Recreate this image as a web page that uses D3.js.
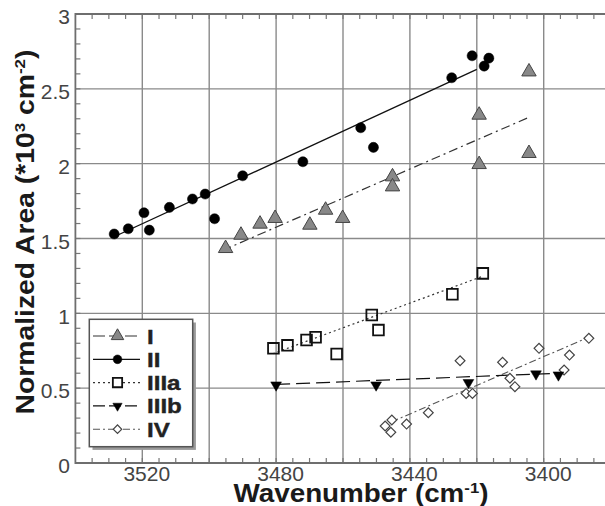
<!DOCTYPE html>
<html><head><meta charset="utf-8">
<script src="https://cdn.jsdelivr.net/npm/d3@7"></script>
<style>body{margin:0;background:#fff}</style></head>
<body><svg id="c" width="605" height="506"></svg>
<script>
// ---- data ----
const xMajor = [3520, 3500, 3480, 3460, 3440, 3420, 3400];
const xTickLabels = [3520, 3480, 3440, 3400];
const yMajor = [0.5, 1, 1.5, 2, 2.5];
const yTickLabels = [0, 0.5, 1, 1.5, 2, 2.5, 3];

const wnI  = [3495.1, 3490.5, 3484.8, 3480.3, 3469.9, 3465.2, 3460.1, 3445.2, 3445.2, 3419.3, 3419.3, 3404.4, 3404.4];
const valI = [1.434, 1.523, 1.597, 1.635, 1.59, 1.69, 1.635, 1.913, 1.846, 2.325, 1.995, 2.614, 2.069];

const wnII  = [3528.4, 3524.2, 3519.5, 3517.9, 3511.9, 3505.0, 3501.2, 3498.4, 3490.0, 3472.0, 3454.7, 3450.9, 3427.5, 3421.4, 3417.8, 3416.4];
const valII = [1.53, 1.565, 1.672, 1.556, 1.708, 1.764, 1.797, 1.632, 1.919, 2.013, 2.24, 2.109, 2.574, 2.721, 2.652, 2.705];

const wnIIIa  = [3480.8, 3476.6, 3470.9, 3468.2, 3461.9, 3451.4, 3449.4, 3427.3, 3418.2];
const valIIIa = [0.766, 0.786, 0.822, 0.84, 0.728, 0.989, 0.888, 1.127, 1.267];

const wnIIIb  = [3480.0, 3450.1, 3422.5, 3402.3, 3395.6];
const valIIIb = [0.521, 0.521, 0.537, 0.595, 0.588];

const wnIV  = [3447.4, 3445.4, 3445.7, 3441.0, 3434.5, 3425.0, 3423.2, 3421.3, 3412.3, 3410.1, 3408.6, 3401.4, 3393.9, 3392.3, 3386.5];
const valIV = [0.247, 0.287, 0.205, 0.26, 0.336, 0.683, 0.465, 0.465, 0.673, 0.566, 0.51, 0.766, 0.621, 0.721, 0.833];

// fitted lines (wavenumber, value) endpoints
const fitI    = [[3496, 1.42], [3404.4, 2.31]];
const fitII   = [[3528.6, 1.51], [3420, 2.63]];
const fitIIIa = [[3481, 0.73], [3418, 1.25]];
const fitIIIb = [[3480, 0.525], [3395.6, 0.60]];
const fitIV   = [[3445.5, 0.275], [3386.5, 0.84]];

const seriesNames = ["I", "II", "IIIa", "IIIb", "IV"];

// ---- chart ----
const svg = d3.select("#c");
const x = d3.scaleLinear().domain([3540, 3380]).range([75.4, 610.6]);
const y = d3.scaleLinear().domain([0, 3]).range([463, 14]);
const X0 = x.range()[0], X1 = 605, Y0 = y.range()[0], Y1 = y.range()[1];

const gridCol = "#8a8a8a";
svg.append("g").selectAll("line").data(xMajor).join("line")
  .attr("x1", d => x(d)).attr("x2", d => x(d)).attr("y1", Y1).attr("y2", Y0)
  .attr("stroke", gridCol).attr("stroke-width", 1.4);
svg.append("g").selectAll("line").data(yMajor).join("line")
  .attr("x1", X0).attr("x2", X1).attr("y1", d => y(d)).attr("y2", d => y(d))
  .attr("stroke", gridCol).attr("stroke-width", 1.4);

// minor ticks
const xMinor = d3.range(3535, 3380, -5);
const yMinor = d3.range(0.1, 3, 0.1);
const tk = svg.append("g").attr("stroke", "#777").attr("stroke-width", 1.2);
tk.selectAll(".xb").data(xMinor).join("line").attr("class","xb")
  .attr("x1", d => x(d)).attr("x2", d => x(d)).attr("y1", Y0).attr("y2", Y0 - 5);
tk.selectAll(".xt").data(xMinor).join("line").attr("class","xt")
  .attr("x1", d => x(d)).attr("x2", d => x(d)).attr("y1", Y1).attr("y2", Y1 + 5);
tk.selectAll(".yl").data(yMinor).join("line").attr("class","yl")
  .attr("x1", X0).attr("x2", X0 + 5).attr("y1", d => y(d)).attr("y2", d => y(d));

// frame
svg.append("path").attr("d", `M${X1},${Y1}H${X0}V${Y0}H${X1}`)
  .attr("fill", "none").attr("stroke", "#6e6e6e").attr("stroke-width", 1.8);

// axes labels via d3 axes
const xAxis = d3.axisBottom(x).tickValues(xTickLabels).tickSize(0).tickPadding(0).tickFormat(d3.format("d"));
const gx = svg.append("g").attr("transform", `translate(4,${Y0})`).call(xAxis);
gx.select(".domain").remove();
gx.selectAll("text").attr("font-family", "Liberation Sans, Arial, sans-serif")
  .attr("font-size", 21).attr("fill", "#444").attr("dy", "0.84em");

const yAxis = d3.axisLeft(y).tickValues(yTickLabels).tickSize(0).tickPadding(0).tickFormat(d => String(d));
const gy = svg.append("g").attr("transform", `translate(70,3)`).call(yAxis);
gy.select(".domain").remove();
gy.selectAll("text").attr("font-family", "Liberation Sans, Arial, sans-serif")
  .attr("font-size", 21).attr("fill", "#444");

// titles
svg.append("text").attr("x", 361).attr("y", 502)
  .attr("text-anchor", "middle").attr("font-family", "Liberation Sans, Arial, sans-serif")
  .attr("font-weight", "bold").attr("font-size", 25).attr("fill", "#1a1a1a")
  .attr("textLength", 255).attr("lengthAdjust", "spacingAndGlyphs")
  .html('Wavenumber (cm<tspan dy="-9" font-size="15">-1</tspan><tspan dy="9">)</tspan>');

svg.append("text").attr("transform", "translate(34,232) rotate(-90)")
  .attr("text-anchor", "middle").attr("font-family", "Liberation Sans, Arial, sans-serif")
  .attr("font-weight", "bold").attr("font-size", 25).attr("fill", "#1a1a1a")
  .attr("textLength", 365).attr("lengthAdjust", "spacingAndGlyphs")
  .html('Normalized Area (*10<tspan dy="-9" font-size="15">3</tspan><tspan dy="9"> cm</tspan><tspan dy="-9" font-size="15">-2</tspan><tspan dy="9">)</tspan>');

// series styles
const styles = {
  I:    {sym: d3.symbolTriangle, size: 90, rot: 0, fill: "#888", stroke: "#444", sw: 1, line: "#333", dash: "9,4,2,4", lw: 1.2},
  II:   {sym: d3.symbolCircle, size: 80, rot: 0, fill: "#000", stroke: "#000", sw: 0.5, line: "#111", dash: null, lw: 1.3},
  IIIa: {sym: d3.symbolSquare, size: 115, rot: 0, fill: "none", stroke: "#111", sw: 1.8, line: "#333", dash: "2,3", lw: 1.2},
  IIIb: {sym: d3.symbolTriangle, size: 50, rot: 180, fill: "#000", stroke: "#000", sw: 0.5, line: "#111", dash: "14,6", lw: 1.2},
  IV:   {sym: d3.symbolSquare, size: 48, rot: 45, fill: "#fff", stroke: "#444", sw: 1.2, line: "#555", dash: "7,3,2,3", lw: 1.1}
};
const wns = {I: wnI, II: wnII, IIIa: wnIIIa, IIIb: wnIIIb, IV: wnIV};
const vals = {I: valI, II: valII, IIIa: valIIIa, IIIb: valIIIb, IV: valIV};
const fits = {I: fitI, II: fitII, IIIa: fitIIIa, IIIb: fitIIIb, IV: fitIV};

const lineGen = d3.line().x(d => x(d[0])).y(d => y(d[1]));
const drawOrder = ["IV", "IIIb", "IIIa", "I", "II"];
drawOrder.forEach(k => {
  const s = styles[k];
  svg.append("path").datum(fits[k]).attr("d", lineGen).attr("fill", "none")
    .attr("stroke", s.line).attr("stroke-width", s.lw).attr("stroke-dasharray", s.dash);
});
drawOrder.forEach(k => {
  const s = styles[k];
  const pts = wns[k].map((w, i) => [w, vals[k][i]]);
  svg.append("g").selectAll("path").data(pts).join("path")
    .attr("d", d3.symbol().type(s.sym).size(s.size))
    .attr("transform", d => `translate(${x(d[0])},${y(d[1])}) rotate(${s.rot})`)
    .attr("fill", s.fill).attr("stroke", s.stroke).attr("stroke-width", s.sw);
});

// legend
const lg = svg.append("g");
lg.append("rect").attr("x", 92.5).attr("y", 322.5).attr("width", 103.4).attr("height", 127.4).attr("fill", "#9a9a9a");
lg.append("rect").attr("x", 89.3).attr("y", 319.3).attr("width", 103.4).attr("height", 127.4)
  .attr("fill", "#fff").attr("stroke", "#555").attr("stroke-width", 1.5);
seriesNames.forEach((k, i) => {
  const s = styles[k];
  const yy = 336 + i * 23.3;
  lg.append("line").attr("x1", 93).attr("x2", 140).attr("y1", yy).attr("y2", yy)
    .attr("stroke", s.line).attr("stroke-width", s.lw).attr("stroke-dasharray", (k === "I" || k === "IIIb") ? "12,4" : s.dash);
  lg.append("path").attr("d", d3.symbol().type(s.sym).size(s.size * 0.75)())
    .attr("transform", `translate(117.5,${yy}) rotate(${s.rot})`)
    .attr("fill", s.fill === "none" ? "#fff" : s.fill).attr("stroke", s.stroke).attr("stroke-width", s.sw);
  lg.append("text").attr("transform", `translate(147,${yy + 7.5}) scale(1.15,1)`).text(k)
    .attr("font-family", "Liberation Sans, Arial, sans-serif").attr("font-weight", "bold")
    .attr("font-size", 21).attr("fill", "#222").attr("stroke", "#222").attr("stroke-width", 0.4);
});
</script></body></html>
